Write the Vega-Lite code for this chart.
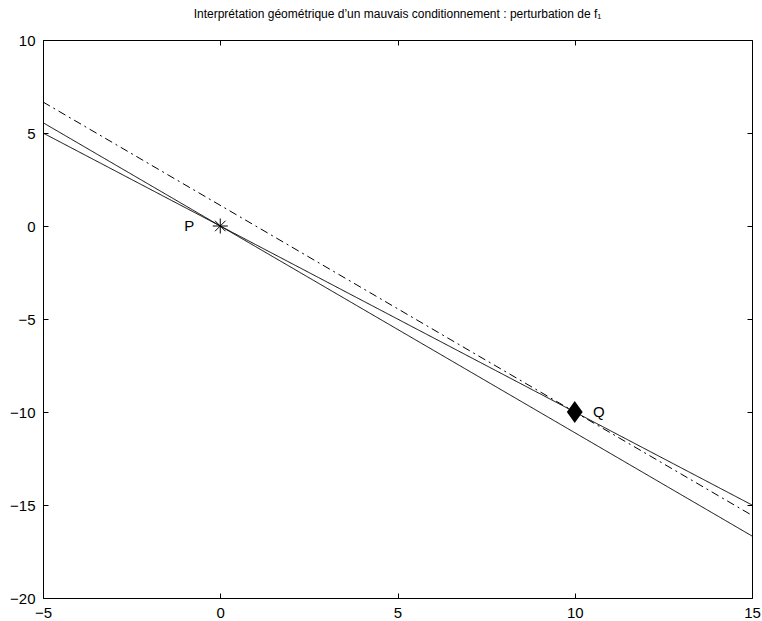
{
  "$schema": "https://vega.github.io/schema/vega-lite/v6.json",
  "width": 709,
  "height": 558,
  "autosize": {"type": "none"},
  "padding": {"left": 43, "top": 40, "right": 10, "bottom": 23},
  "background": "white",
  "config": {
    "view": {"stroke": "black", "strokeWidth": 1},
    "axis": {
      "grid": false,
      "domain": false,
      "ticks": true,
      "tickColor": "black",
      "tickSize": -5,
      "tickWidth": 1,
      "labelFont": "Liberation Sans",
      "labelFontSize": 15,
      "labelColor": "black",
      "labelFlush": false,
      "labelOverlap": false,
      "title": null
    }
  },
  "title": {
    "text": "Interprétation géométrique d’un mauvais conditionnement : perturbation de f₁",
    "font": "Liberation Sans",
    "fontSize": 12,
    "fontWeight": "normal",
    "color": "black",
    "anchor": "middle",
    "frame": "group",
    "baseline": "alphabetic",
    "offset": 3
  },
  "datasets": {
    "lines": [
      {"id": "f1", "style": "solid", "x": -5, "y": 5.556},
      {"id": "f1", "style": "solid", "x": 15, "y": -16.667},
      {"id": "f2", "style": "solid", "x": -5, "y": 5},
      {"id": "f2", "style": "solid", "x": 15, "y": -15},
      {"id": "f1 perturbée", "style": "dashdot", "x": -5, "y": 6.667},
      {"id": "f1 perturbée", "style": "dashdot", "x": 15, "y": -15.556}
    ],
    "points": [
      {"name": "P", "x": 0, "y": 0},
      {"name": "Q", "x": 10, "y": -10}
    ]
  },
  "layer": [
    {
      "layer": [
        {
          "data": {"name": "lines"},
          "mark": {"type": "line", "color": "black", "strokeWidth": 1},
          "encoding": {
            "x": {
              "field": "x", "type": "quantitative",
              "scale": {"domain": [-5, 15], "nice": false, "zero": false},
              "axis": {"orient": "bottom", "values": [-5, 0, 5, 10, 15], "labelPadding": 12}
            },
            "y": {
              "field": "y", "type": "quantitative",
              "scale": {"domain": [-20, 10], "nice": false, "zero": false},
              "axis": {"orient": "left", "values": [-20, -15, -10, -5, 0, 5, 10], "labelPadding": 13}
            },
            "detail": {"field": "id"},
            "strokeDash": {
              "field": "style", "type": "nominal",
              "scale": {"domain": ["solid", "dashdot"], "range": [[1, 0], [8, 4, 2, 4]]},
              "legend": null
            }
          }
        },
        {
          "data": {"name": "points"},
          "transform": [{"filter": "datum.name === 'P'"}],
          "mark": {
            "type": "point",
            "shape": "M-1,0L1,0M0,-1L0,1M-0.7,-0.7L0.7,0.7M-0.7,0.7L0.7,-0.7",
            "filled": false,
            "stroke": "black",
            "strokeWidth": 1,
            "size": 225,
            "opacity": 1
          },
          "encoding": {
            "x": {"field": "x", "type": "quantitative"},
            "y": {"field": "y", "type": "quantitative"}
          }
        },
        {
          "data": {"name": "points"},
          "transform": [{"filter": "datum.name === 'Q'"}],
          "mark": {
            "type": "point",
            "shape": "M0,-1L0.72,0L0,1L-0.72,0Z",
            "filled": true,
            "color": "black",
            "size": 484,
            "opacity": 1
          },
          "encoding": {
            "x": {"field": "x", "type": "quantitative"},
            "y": {"field": "y", "type": "quantitative"}
          }
        },
        {
          "data": {"name": "points"},
          "mark": {
            "type": "text",
            "font": "Liberation Sans",
            "fontSize": 15,
            "color": "black",
            "align": "center",
            "baseline": "middle",
            "dx": {"expr": "datum.name === 'P' ? -31 : 24"}
          },
          "encoding": {
            "x": {"field": "x", "type": "quantitative"},
            "y": {"field": "y", "type": "quantitative"},
            "text": {"field": "name"}
          }
        }
      ]
    },
    {
      "data": {"name": "points"},
      "mark": {"type": "point", "opacity": 0},
      "encoding": {
        "x": {
          "field": "x", "type": "quantitative",
          "axis": {"orient": "top", "values": [-5, 0, 5, 10, 15], "labels": false}
        },
        "y": {
          "field": "y", "type": "quantitative",
          "axis": {"orient": "right", "values": [-20, -15, -10, -5, 0, 5, 10], "labels": false}
        }
      }
    }
  ],
  "resolve": {"axis": {"x": "independent", "y": "independent"}}
}
